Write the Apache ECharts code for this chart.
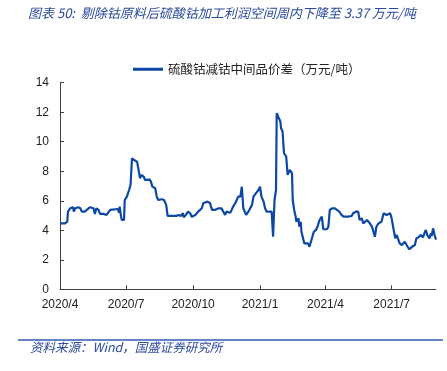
<!DOCTYPE html>
<html>
<head>
<meta charset="utf-8">
<script src="https://cdn.jsdelivr.net/npm/echarts@6/dist/echarts.min.js"></script>
<style>
html,body{margin:0;padding:0;background:#fff;}
#chart{width:447px;height:371px;}
</style>
</head>
<body>
<div id="chart"></div>
<script>
const titleText = '图表 50:  剔除钴原料后硫酸钴加工利润空间周内下降至 3.37 万元/吨';
const sourceText = '资料来源：Wind，国盛证券研究所';
const seriesName = '硫酸钴减钴中间品价差（万元/吨）';
const xTickDates = ['2020-04-01','2020-07-01','2020-10-01','2021-01-01','2021-04-01','2021-07-01'];
const xStart = '2020-04-01';
const xEnd = '2021-08-31';

const dates = [
'2020-04-01','2020-04-08','2020-04-11','2020-04-12','2020-04-15','2020-04-17','2020-04-19','2020-04-20','2020-04-22','2020-04-26',
'2020-04-29','2020-05-01','2020-05-05','2020-05-08','2020-05-12','2020-05-17','2020-05-19','2020-05-21','2020-05-24','2020-05-26',
'2020-05-31','2020-06-04','2020-06-06','2020-06-09','2020-06-11','2020-06-20','2020-06-21','2020-06-22','2020-06-24','2020-06-25',
'2020-06-28','2020-06-29','2020-07-02','2020-07-04','2020-07-05','2020-07-07','2020-07-09','2020-07-11','2020-07-13','2020-07-16',
'2020-07-18','2020-07-20','2020-07-22','2020-07-25','2020-07-27','2020-07-30','2020-08-02','2020-08-04','2020-08-06','2020-08-10',
'2020-08-12','2020-08-14','2020-08-19','2020-08-22','2020-08-25','2020-08-27','2020-08-30','2020-09-08','2020-09-11','2020-09-14',
'2020-09-17','2020-09-18','2020-09-21','2020-09-24','2020-09-27','2020-09-29','2020-10-01','2020-10-04','2020-10-06','2020-10-08',
'2020-10-10','2020-10-13','2020-10-15','2020-10-20','2020-10-24','2020-10-27','2020-10-31','2020-11-02','2020-11-05','2020-11-09',
'2020-11-11','2020-11-14','2020-11-16','2020-11-18','2020-11-21','2020-11-23','2020-11-25','2020-11-28','2020-11-30','2020-12-02',
'2020-12-05','2020-12-07','2020-12-09','2020-12-11','2020-12-13','2020-12-16','2020-12-18','2020-12-21','2020-12-23','2020-12-25',
'2020-12-27','2020-12-30','2021-01-01','2021-01-03','2021-01-06','2021-01-08','2021-01-10','2021-01-17','2021-01-18','2021-01-19',
'2021-01-21','2021-01-23','2021-01-24','2021-01-26','2021-01-29','2021-01-30','2021-02-01','2021-02-03','2021-02-06','2021-02-08',
'2021-02-10','2021-02-11','2021-02-14','2021-02-15','2021-02-17','2021-02-19','2021-02-20','2021-02-23','2021-02-24','2021-02-26',
'2021-02-27','2021-03-01','2021-03-03','2021-03-08','2021-03-10','2021-03-12','2021-03-14','2021-03-16','2021-03-19','2021-03-21',
'2021-03-24','2021-03-25','2021-03-27','2021-03-29','2021-04-03','2021-04-05','2021-04-07','2021-04-10','2021-04-12','2021-04-14',
'2021-04-16','2021-04-20','2021-04-23','2021-04-26','2021-04-28','2021-05-02','2021-05-07','2021-05-09','2021-05-13','2021-05-16',
'2021-05-18','2021-05-21','2021-05-23','2021-05-25','2021-05-28','2021-05-30','2021-06-01','2021-06-04','2021-06-06','2021-06-08',
'2021-06-10','2021-06-13','2021-06-17','2021-06-20','2021-06-24','2021-06-29','2021-07-01','2021-07-03','2021-07-06','2021-07-08',
'2021-07-10','2021-07-12','2021-07-15','2021-07-17','2021-07-19','2021-07-21','2021-07-23','2021-07-25','2021-07-29','2021-07-31',
'2021-08-02','2021-08-04','2021-08-07','2021-08-09','2021-08-10','2021-08-13','2021-08-15','2021-08-17','2021-08-19','2021-08-22',
'2021-08-24','2021-08-25','2021-08-27','2021-08-29','2021-08-31'
];

const spread = [
4.47,4.47,4.58,5.26,5.49,5.56,5.56,5.26,5.49,5.56,
5.49,5.26,5.26,5.38,5.56,5.49,5.11,5.49,5.38,5.11,
5.11,5.04,5.15,5.38,5.44,5.44,5.19,5.60,4.92,4.70,
4.70,6.05,6.28,6.39,6.73,7.07,8.88,8.81,8.72,8.65,
8.54,7.53,7.75,7.64,7.41,7.41,7.46,7.30,6.96,6.85,
6.28,6.05,6.10,6.05,5.72,4.97,4.97,4.97,5.04,4.97,
5.15,4.88,5.04,5.26,5.15,4.92,4.81,5.04,5.04,5.26,
5.38,5.49,5.83,5.94,5.87,5.38,5.38,5.26,5.49,5.49,
5.38,5.04,5.26,5.38,5.19,5.38,5.60,5.83,6.05,6.28,
6.28,6.95,5.49,5.38,5.04,5.26,5.19,5.72,6.28,6.39,
6.55,6.73,6.95,6.28,5.94,5.49,5.26,5.26,5.15,3.57,
6.05,6.73,11.93,11.70,11.37,10.91,10.69,9.22,9.00,7.75,
7.64,8.09,7.86,6.05,5.38,4.92,4.58,4.81,4.24,4.58,
3.90,3.79,3.11,3.11,2.88,2.77,3.56,3.90,4.02,4.24,
4.70,4.58,4.92,4.07,4.07,4.24,5.38,5.49,5.42,5.49,
5.38,5.26,5.04,4.92,4.81,4.92,4.97,5.15,5.26,5.26,
4.70,4.81,4.47,4.43,4.70,4.81,4.47,4.24,3.90,3.56,
4.24,4.47,4.58,5.15,5.04,5.15,4.81,4.24,3.45,3.68,
3.56,3.11,3.00,2.88,3.22,3.22,2.88,2.71,2.88,2.88,
3.00,3.45,3.52,3.45,3.68,3.52,3.79,4.02,3.68,3.45,
3.79,3.61,4.13,3.68,3.37
];

const lineColor = '#0B48A3';
const textBlue = '#2A4A9C';
const ts = s => Date.UTC(+s.slice(0,4), +s.slice(5,7) - 1, +s.slice(8,10));

const chart = echarts.init(document.getElementById('chart'), null, {renderer:'canvas'});
const fmt = function (val) {
  const d = new Date(val);
  return d.getUTCFullYear() + '/' + (d.getUTCMonth() + 1);
};
chart.setOption({
  animation: false,
  backgroundColor: '#fff',
  textStyle: {fontFamily: 'Liberation Sans'},
  grid: {left: 60, right: 11, top: 82.7, bottom: 81.7},
  legend: {
    left: 128, top: 58,
    itemWidth: 30, itemHeight: 3, itemGap: 5,
    icon: 'rect',
    textStyle: {fontSize: 12.5, color: '#222', fontFamily: 'Noto Sans CJK SC'},
    data: [{name: seriesName, itemStyle: {color: lineColor}}]
  },
  xAxis: {
    type: 'value',
    min: ts(xStart),
    max: ts(xEnd),
    splitLine: {show: false},
    axisLine: {lineStyle: {color: '#404040', width: 1}},
    axisTick: {show: true, inside: true, length: 4, lineStyle: {color: '#404040'},
      customValues: xTickDates.slice(1).map(ts)},
    axisLabel: {
      color: '#222', fontSize: 12, margin: 9, fontFamily: 'Liberation Sans',
      customValues: xTickDates.map(ts),
      formatter: fmt, hideOverlap: false
    }
  },
  yAxis: {
    type: 'value',
    min: 0, max: 14, interval: 2,
    splitLine: {show: false},
    axisLine: {show: true, lineStyle: {color: '#404040', width: 1}},
    axisTick: {show: true, inside: true, length: 4, lineStyle: {color: '#404040'}},
    axisLabel: {color: '#222', fontSize: 12, margin: 11, fontFamily: 'Liberation Sans'}
  },
  series: [{
    name: seriesName,
    type: 'line',
    data: dates.map((d, i) => [ts(d), spread[i]]),
    showSymbol: false,
    symbol: 'none',
    lineStyle: {color: lineColor, width: 2.2},
    itemStyle: {color: lineColor}
  }],
  graphic: [
    {type: 'text', left: 28, top: 7,
     style: {text: titleText, fill: textBlue, fontSize: 13, fontStyle: 'italic', fontFamily: 'Noto Sans CJK SC'}},
    {type: 'line', shape: {x1: 18, y1: 340, x2: 443, y2: 340},
     style: {stroke: '#2F5DB5', lineWidth: 1.5}},
    {type: 'text', left: 30, top: 341,
     style: {text: sourceText, fill: textBlue, fontSize: 12.5, fontStyle: 'italic', fontFamily: 'Noto Sans CJK SC'}}
  ]
});
</script>
</body>
</html>
